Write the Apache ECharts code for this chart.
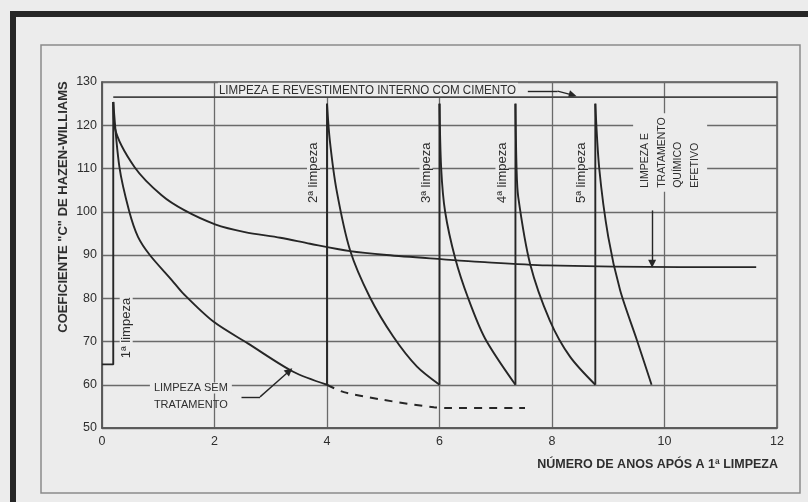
<!DOCTYPE html>
<html><head><meta charset="utf-8">
<script src="https://cdn.jsdelivr.net/npm/echarts/dist/echarts.min.js"></script>
<style>html,body{margin:0;padding:0;background:#ececec}#c{width:808px;height:502px}</style>
</head><body><div id="c"></div><script>
// ---- data ----
const xTicks = [0, 2, 4, 6, 8, 10, 12];
const yTicks = [50, 60, 70, 80, 90, 100, 110, 120, 130];
const revestimento = [[0.2,125.4],[0.23,119.3],[0.58,110.3],[1.06,103.8],[1.47,100.3],[2.01,97.1],[2.54,95.3],[3.17,94.0],[3.7,92.6],[4.41,90.9],[5.06,90.0],[6.07,89.0],[6.72,88.4],[7.91,87.6],[10.28,87.2],[11.63,87.2]];
const semTratamento = [[0.2,125.4],[0.31,110.3],[0.48,100.3],[0.64,94.2],[0.85,90],[1.24,84.2],[1.45,81],[1.98,74.6],[2.6,69.5],[3.4,63.0],[4.0,60]];
const semTratamentoProj = [[4,60],[4.3,58.3],[5.0,56.5],[5.9,54.8],[6.2,54.6],[7.52,54.6]];
const primeiraLimpeza = [[0,64.7],[0.2,64.7],[0.2,125.4]];
const limpezaAnos = [4, 6, 7.35, 8.77];
const limpezaBase = 60;
const limpezaPico = 125;
const decaimento2 = [[4,125],[4.05,116.5],[4.17,105],[4.41,91.1],[4.76,80.3],[5.18,71.1],[5.6,64.2],[6,60]];
const decaimento3 = [[6,125],[6.03,110],[6.1,100],[6.28,89.2],[6.51,80],[6.81,70.7],[7.35,60]];
const decaimento4 = [[7.35,125],[7.37,110],[7.4,103.4],[7.61,88],[7.96,74.9],[8.32,66.5],[8.77,60]];
const decaimento5 = [[8.77,125],[8.84,110],[9.0,94.2],[9.21,81.9],[9.51,70.3],[9.77,60]];
const linhaRevestimento = [[0.2,126.5],[12,126.5]];
const setaRevestimento = [[7.57,127.9],[8.1,127.9],[8.37,126.95]];
const setaQuimico = [[9.78,100.3],[9.78,88]];
const setaSemTratamento = [[2.48,57.2],[2.81,57.2],[3.33,63.2]];
const limpezaLabels = ['1ª limpeza', '2ª limpeza', '3ª limpeza', '4ª limpeza', '5ª limpeza'];
const textoRevestimento = 'LIMPEZA E REVESTIMENTO INTERNO COM CIMENTO';
const textoSemTrat = ['LIMPEZA SEM', 'TRATAMENTO'];
const textoQuimico = 'LIMPEZA E\nTRATAMENTO\nQUÍMICO\nEFETIVO';
const tituloY = 'COEFICIENTE "C" DE HAZEN-WILLIAMS';
const tituloX = 'NÚMERO DE ANOS APÓS A 1ª LIMPEZA';

// ---- styling ----
const INK = '#262626', GRID = '#6a6a6a', PAPER = '#ececec', TXT = '#2e2e2e';
const FONT = '"Liberation Sans", Arial, sans-serif';

const chart = echarts.init(document.getElementById('c'), null, {renderer: 'canvas'});

function ls(name, data, extra) {
  return Object.assign({
    name, type: 'line', data, symbol: 'none', showSymbol: false, silent: true,
    animation: false, z: 3, lineStyle: {color: INK, width: 1.9}
  }, extra || {});
}
const smooth = {smooth: 0.3};
function arrowLines(pts) {
  const out = [];
  for (let i = 0; i < pts.length - 1; i++) {
    out.push([{coord: pts[i], symbol: 'none'},
              {coord: pts[i + 1], symbol: i === pts.length - 2 ? 'triangle' : 'none'}]);
  }
  return out;
}

const series = [
  ls('revestimento', revestimento, smooth),
  ls('semTratamento', semTratamento, smooth),
  ls('semTratamentoProj', semTratamentoProj, Object.assign({lineStyle: {color: INK, width: 2, type: [8, 7]}}, smooth)),
  ls('primeiraLimpeza', primeiraLimpeza),
  ls('linhaRevestimento', linhaRevestimento, {z: 6, lineStyle: {color: '#444', width: 1.6}}),
  ...limpezaAnos.map((a, i) => ls('vert' + i, [[a, limpezaBase], [a, limpezaPico]])),
  ...[decaimento2, decaimento3, decaimento4, decaimento5].map((d, i) => ls('dec' + i, d, smooth)),
  {
    type: 'line', data: [], silent: true, animation: false, z: 6,
    markLine: {
      silent: true, animation: false, symbolSize: 8,
      lineStyle: {color: INK, width: 1.4, type: 'solid'},
      label: {show: false},
      emphasis: {disabled: true},
      data: [...arrowLines(setaRevestimento), ...arrowLines(setaQuimico), ...arrowLines(setaSemTratamento)]
    }
  }
];

chart.setOption({
  backgroundColor: PAPER,
  animation: false,
  grid: {left: 102, right: 31, top: 82, bottom: 74, show: true, borderColor: '#555', borderWidth: 1.5, backgroundColor: 'transparent'},
  xAxis: {
    type: 'value', min: xTicks[0], max: xTicks[xTicks.length - 1], interval: xTicks[1] - xTicks[0],
    axisLine: {show: true, lineStyle: {color: '#555', width: 1.5}},
    axisTick: {show: false},
    axisLabel: {color: TXT, fontSize: 12.5, fontFamily: FONT, margin: 7},
    splitLine: {show: true, lineStyle: {color: GRID, width: 1.3}}
  },
  yAxis: {
    type: 'value', min: yTicks[0], max: yTicks[yTicks.length - 1], interval: yTicks[1] - yTicks[0],
    axisLine: {show: true, lineStyle: {color: '#555', width: 1.5}},
    axisTick: {show: false},
    axisLabel: {color: TXT, fontSize: 12.5, fontFamily: FONT, margin: 5},
    splitLine: {show: true, lineStyle: {color: GRID, width: 1.3}}
  },
  series
});

const px = (p) => chart.convertToPixel({gridIndex: 0}, p);
const graphics = [];
// frame
graphics.push({type: 'rect', z: 20, silent: true, shape: {x: 10, y: 11, width: 798, height: 6}, style: {fill: '#262626'}});
graphics.push({type: 'rect', z: 20, silent: true, shape: {x: 10, y: 11, width: 6, height: 491}, style: {fill: '#262626'}});
graphics.push({type: 'rect', z: 1, silent: true, shape: {x: 41, y: 45, width: 759, height: 448}, style: {fill: 'none', stroke: '#8a8a8a', lineWidth: 1.5}});

// top label
let p = px([2.06, 128.1]);
graphics.push({type: 'text', z: 5, silent: true, x: p[0], y: p[1], scaleY: 1.15,
  style: {text: textoRevestimento, font: '11.6px ' + FONT, fill: TXT, align: 'left', verticalAlign: 'middle',
          backgroundColor: PAPER, padding: [1, 2, 0, 1]}});

// cleaning labels
const labelPos = [[0.43, 73.1]].concat(limpezaAnos.map(a => [a - 0.24, 109]));
labelPos.forEach((lp, i) => {
  const q = px(lp);
  graphics.push({type: 'text', z: 5, silent: true, x: q[0], y: q[1], rotation: Math.PI / 2,
    style: {text: limpezaLabels[i], font: '13px ' + FONT, fill: TXT, align: 'center', verticalAlign: 'middle',
            backgroundColor: PAPER, padding: [0, 4]}});
});

// sem tratamento labels
p = px([1.58, 59.25]);
graphics.push({type: 'text', z: 5, silent: true, x: p[0], y: p[1],
  style: {text: textoSemTrat[0], font: '11px ' + FONT, fill: TXT, align: 'center', verticalAlign: 'middle',
          backgroundColor: PAPER, padding: [0, 4]}});
p = px([1.58, 55.3]);
graphics.push({type: 'text', z: 5, silent: true, x: p[0], y: p[1],
  style: {text: textoSemTrat[1], font: '11px ' + FONT, fill: TXT, align: 'center', verticalAlign: 'middle'}});

// quimico block
p = px([10.1, 104.6]);
graphics.push({type: 'text', z: 5, silent: true, x: p[0], y: p[1], rotation: Math.PI / 2,
  style: {text: textoQuimico, font: '10.5px ' + FONT, fill: TXT, align: 'left', verticalAlign: 'middle',
          lineHeight: 16.5, backgroundColor: PAPER, padding: [4, 4]}});

// axis titles
graphics.push({type: 'text', z: 5, silent: true, x: 63, y: 207, rotation: Math.PI / 2,
  style: {text: tituloY, font: 'bold 13px ' + FONT, fill: TXT, align: 'center', verticalAlign: 'middle'}});
graphics.push({type: 'text', z: 5, silent: true, x: 778, y: 465,
  style: {text: tituloX, font: 'bold 12.5px ' + FONT, fill: TXT, align: 'right', verticalAlign: 'middle'}});

chart.setOption({graphic: {elements: graphics}});
</script></body></html>
